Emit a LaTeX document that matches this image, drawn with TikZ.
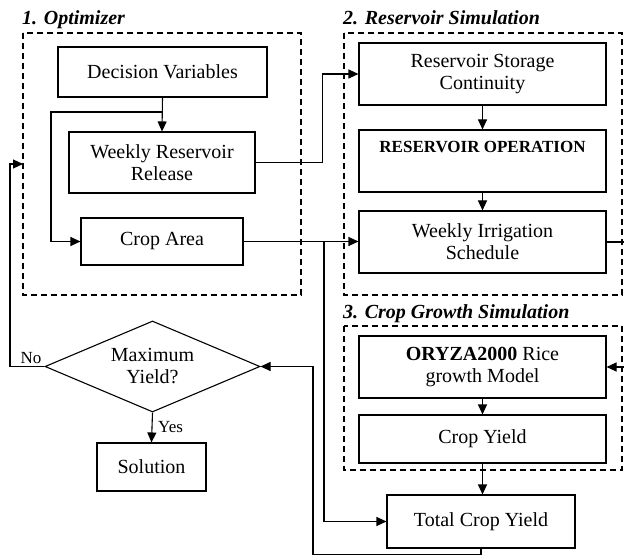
\documentclass[tikz,border=0pt]{standalone}
\usepackage{fontspec}
\setmainfont{Liberation Serif}
\usetikzlibrary{shapes.geometric,arrows.meta}
\tikzset{
  box/.style={draw, line width=1.1pt, inner sep=0pt, align=center, font=\fontsize{20}{22}\selectfont},
  group/.style={draw, line width=1.1pt, dash pattern=on 6pt off 4pt},
  title/.style={anchor=base west, inner sep=0pt, font=\fontsize{20}{22}\selectfont\bfseries\itshape},
  conn/.style={line width=1.1pt},
  arr/.style={line width=1.1pt, -{Triangle[length=10pt,width=9pt]}},
  lbl/.style={inner sep=0pt, font=\fontsize{17}{19}\selectfont}
}
\begin{document}
\begin{tikzpicture}[x=1pt,y=-1pt]
\useasboundingbox (0,0) rectangle (624,556);
% groups
\draw[group] (23,33) rectangle (301,295);
\draw[group] (344,33) rectangle (622,295);
\draw[group] (344,326) rectangle (622,470);
\node[title] (t1) at (22,25) {1. Optimizer};
\node[title] (t2) at (343,25) {2. Reservoir Simulation};
\node[title] (t3) at (343,318) {3. Crop Growth Simulation};
% optimizer
\node[box, minimum width=209pt, minimum height=50pt] (dv) at (162.5,72) {Decision Variables};
\node[box, minimum width=186pt, minimum height=61pt] (wrr) at (162,162.5) {Weekly Reservoir\\Release};
\node[box, minimum width=162pt, minimum height=47pt] (ca) at (162,241.5) {Crop Area};
% reservoir simulation
\node[box, minimum width=247pt, minimum height=62pt] (rsc) at (482.5,74) {Reservoir Storage\\Continuity};
\node[box, minimum width=247pt, minimum height=62pt, font=\fontsize{17}{22}\selectfont\bfseries] (ro) at (482.5,161) {RESERVOIR OPERATION\\\strut};
\node[box, minimum width=247pt, minimum height=62pt] (wis) at (482.5,242) {Weekly Irrigation\\Schedule};
% crop growth
\node[box, minimum width=247pt, minimum height=62pt] (ory) at (482.5,367) {\textbf{ORYZA2000} Rice\\growth Model};
\node[box, minimum width=247pt, minimum height=48pt] (cy) at (482.5,439) {Crop Yield};
\node[box, minimum width=188pt, minimum height=53pt] (tcy) at (481,521.5) {Total Crop Yield};
% decision
\node[box, shape=diamond, aspect=2.36, minimum width=215pt, minimum height=91pt] (dia) at (152.5,366.5) {Maximum\\Yield?};
\node[box, minimum width=109pt, minimum height=48pt] (sol) at (151.5,467) {Solution};
% coordinates
\coordinate (j1) at (162,112);
\coordinate (l1) at (51,112);
\coordinate (j2) at (324,241.5);
\coordinate (r1) at (627,242);
\coordinate (b1) at (313,554.5);
\coordinate (fb) at (23,164);
\coordinate (f1) at (10,366.5);
% connectors
\draw[arr] (dv.south) -- (wrr.north);
\draw[arr] (j1) -- (l1) |- (ca.west);
\draw[arr] (wrr.east) -- ++(67,0) |- (rsc.west);
\draw[arr] (ca.east) -- (ca.east -| wis.west);
\draw[arr] (j2) |- (tcy.west);
\draw[arr] (rsc.south) -- (ro.north);
\draw[arr] (ro.south) -- (wis.north);
\draw[arr] (wis.east) -- (r1) |- (ory.east);
\draw[arr] (ory.south) -- (cy.north);
\draw[arr] (cy.south) -- (cy.south |- tcy.north);
\draw[arr] (tcy.south) |- (b1) |- (dia.east);
\draw[arr] (dia.west) -- (f1) |- (fb);
\draw[arr] (dia.south) -- (sol.north);
\node[lbl, anchor=south] (no) at (31,364) {No};
\node[lbl, anchor=west] (yes) at (158,427) {Yes};
\end{tikzpicture}
\end{document}
